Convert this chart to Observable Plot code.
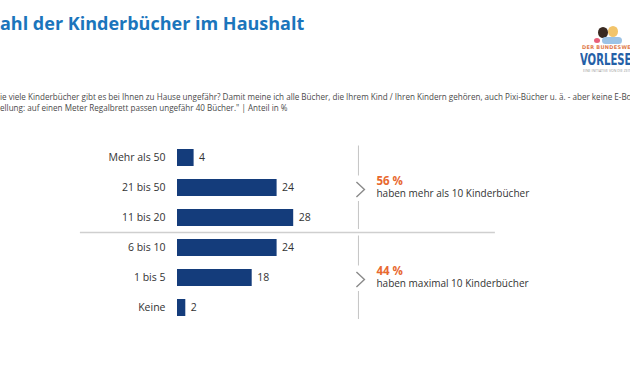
<!DOCTYPE html>
<html><head><meta charset="utf-8">
<script src="https://cdn.jsdelivr.net/npm/d3@7"></script>
<script src="https://cdn.jsdelivr.net/npm/@observablehq/plot@0.6"></script>
<style>
body{margin:0;background:#fff;}
#wrap{position:relative;width:630px;height:370px;overflow:hidden;font-family:"Open Sans",sans-serif;background:#fff;}
#chart{position:absolute;left:0;top:0;}
#title{position:absolute;left:0;top:11px;font-size:18px;font-weight:700;color:#1b75bc;white-space:nowrap;}
#sub{position:absolute;left:0;top:91px;font-size:8.1px;color:#4a4a4a;line-height:11px;white-space:nowrap;}
.lg{position:absolute;white-space:nowrap;}
#lg1{left:582px;top:44px;font-size:5px;color:#e07a4a;font-weight:700;letter-spacing:0.3px;font-family:"DejaVu Sans";}
#lg2{left:580px;top:50px;font-size:16px;color:#2460a7;font-weight:700;font-family:"DejaVu Sans";transform:scaleX(0.63);transform-origin:left;}
#lg3{left:583px;top:68px;font-size:3.5px;color:#999;}
.head{position:absolute;border-radius:50%;}
</style></head>
<body>
<div id="wrap">
  <div id="chart"></div>
  <div id="title">ahl der Kinderbücher im Haushalt</div>
  <div id="sub">ie viele Kinderbücher gibt es bei Ihnen zu Hause ungefähr? Damit meine ich alle Bücher, die Ihrem Kind / Ihren Kindern gehören, auch Pixi-Bücher u. ä. - aber keine E-Books.<br>ellung: auf einen Meter Regalbrett passen ungefähr 40 Bücher." | Anteil in %</div>
  <div class="head" style="left:598px;top:27px;width:10px;height:11px;background:#3a2a22;"></div>
  <div class="head" style="left:608px;top:26px;width:10px;height:11px;background:#f2c46a;"></div>
  <div class="head" style="left:602px;top:37px;width:20px;height:7px;background:#9cc3e6;border-radius:4px;"></div>
  <div class="head" style="left:594px;top:38px;width:6px;height:5px;background:#e8607a;"></div>
  <div id="lg1" class="lg">DER BUNDESWEITE</div>
  <div id="lg2" class="lg">VORLESETAG</div>
  <div id="lg3" class="lg">EINE INITIATIVE VON DIE ZEIT · STIFTUNG</div>
</div>
<script>
const categories = ["Mehr als 50", "21 bis 50", "11 bis 20", "6 bis 10", "1 bis 5", "Keine"];
const shares = [4, 24, 28, 24, 18, 2];
const groupShares = ["56 %", "44 %"];
const groupTexts = ["haben mehr als 10 Kinderbücher", "haben maximal 10 Kinderbücher"];
const groupFirst = ["Mehr als 50", "6 bis 10"];
const groupMid = ["21 bis 50", "1 bis 5"];
const groupLast = ["11 bis 20", "Keine"];
const separatorAt = ["6 bis 10"];

const rows = categories.map((c, i) => ({c, v: shares[i]}));
const groups = groupShares.map((s, i) => ({share: s, text: groupTexts[i], first: groupFirst[i], mid: groupMid[i], last: groupLast[i]}));

const annoX = 43.6;
const chevron = {draw(ctx) { ctx.moveTo(-2, -7.5); ctx.lineTo(6, 0); ctx.lineTo(-2, 7.5); }};

const plot = Plot.plot({
  width: 630,
  height: 370,
  marginLeft: 177,
  marginRight: 38,
  marginTop: 133,
  marginBottom: 38,
  style: {fontFamily: "Open Sans, sans-serif", fontSize: "10.5px", color: "#333", background: "transparent"},
  x: {domain: [0, 100], axis: null},
  y: {domain: categories, padding: 0.45, label: null, tickSize: 0, tickPadding: 12},
  marks: [
    Plot.ruleY(separatorAt, {y: d => d, x1: -23.4, x2: 76.6, dy: -15.4, stroke: "#cfcfcf", strokeWidth: 1.5}),
    Plot.ruleX(groups, {x: annoX, y1: "first", y2: "first", insetTop: -3.5, insetBottom: -9.5, stroke: "#c4c4c4", strokeWidth: 1}),
    Plot.ruleX(groups, {x: annoX, y1: "last", y2: "last", insetTop: -8, insetBottom: -3, stroke: "#c4c4c4", strokeWidth: 1}),
    Plot.dot(groups, {x: annoX, y: "mid", symbol: chevron, stroke: "#8a8a8a", fill: "none", strokeWidth: 1.4, dy: 1.5}),
    Plot.text(groups, {x: annoX, y: "mid", text: "share", dx: 18, dy: -7, textAnchor: "start", fill: "#e8692f", fontWeight: "bold", fontSize: 11.5}),
    Plot.text(groups, {x: annoX, y: "mid", text: "text", dx: 18, dy: 6, textAnchor: "start", fill: "#333", fontSize: 10}),
    Plot.barX(rows, {x: "v", y: "c", fill: "#143c7b"}),
    Plot.text(rows, {x: "v", y: "c", text: d => String(d.v), dx: 5, textAnchor: "start", fill: "#333", fontSize: 10.5})
  ]
});
document.getElementById("chart").appendChild(plot);
</script>
</body></html>
